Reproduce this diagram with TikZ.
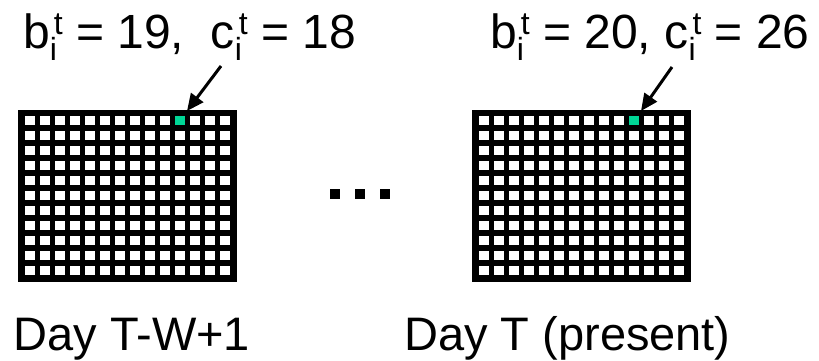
\documentclass[tikz,border=0pt]{standalone}
\usepackage{fontspec}
\setmainfont{Liberation Sans}
\usetikzlibrary{arrows.meta}
\definecolor{hl}{RGB}{0,214,150}
\newcommand{\mySS}[2]{\makebox[0pt][l]{\raisebox{-12pt}{\fontsize{32}{32}\selectfont #1}}\hspace{4pt}\raisebox{14pt}{\fontsize{32}{32}\selectfont #2}}
\tikzset{
  gridbox/.style={fill=black, draw=none, inner sep=0pt, minimum width=219pt, minimum height=172pt},
  hlcell/.style={fill=hl, draw=none, inner sep=0pt, minimum width=10pt, minimum height=9pt},
  toptext/.style={inner sep=0pt, anchor=base west, font=\fontsize{48}{52}\selectfont},
  bigtext/.style={inner sep=0pt, anchor=base west, font=\fontsize{47}{52}\selectfont},
  dotsq/.style={fill=black, draw=none, inner sep=0pt, minimum size=10pt},
  pointer/.style={line width=3pt, -{Triangle[length=17pt,width=15pt]}}
}
\begin{document}
\begin{tikzpicture}[x=1pt,y=-1pt]
\useasboundingbox[fill=white] (0,0) rectangle (819,360);
% left grid
\node[gridbox] (gridL) at (127.5,196) {};
\foreach \i in {0,...,13} \foreach \j in {0,...,10}
  \fill[white] ({25+15*\i},{116+15*\j}) rectangle +(10,9);
\node[hlcell] (cellL) at (180,120.5) {};
% right grid
\node[gridbox] (gridR) at (581.5,196) {};
\foreach \i in {0,...,13} \foreach \j in {0,...,10}
  \fill[white] ({479+15*\i},{116+15*\j}) rectangle +(10,9);
\node[hlcell] (cellR) at (634,120.5) {};
% labels
\node[toptext] (topL) at (23,48) {b\mySS{i}{t} = 19,\ \ c\mySS{i}{t} = 18};
\node[toptext] (topR) at (490,48) {b\mySS{i}{t} = 20, c\mySS{i}{t} = 26};
\node[bigtext] (botL) at (13.5,350) {Day T-W+1};
\node[bigtext] (botR) at (404,350) {Day T (present)};
% arrows
\coordinate (tailL) at (221,66);
\coordinate (tipL) at (187,111);
\coordinate (tailR) at (672,67);
\coordinate (tipR) at (641,111);
\draw[pointer] (tailL) -- (tipL);
\draw[pointer] (tailR) -- (tipR);
% dots
\node[dotsq] (d1) at (335,194) {};
\node[dotsq] (d2) at (360,194) {};
\node[dotsq] (d3) at (385,194) {};
\end{tikzpicture}
\end{document}
